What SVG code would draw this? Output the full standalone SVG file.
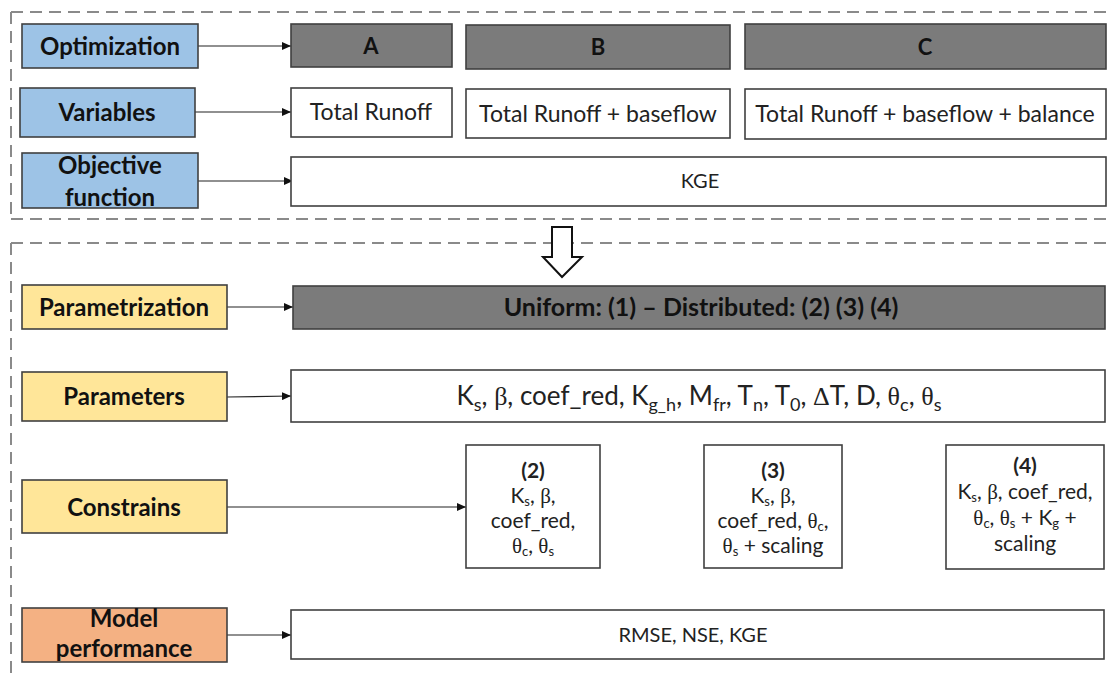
<svg xmlns="http://www.w3.org/2000/svg" width="1112" height="680" viewBox="0 0 1112 680">
<defs>
<marker id="ah" markerUnits="userSpaceOnUse" markerWidth="9" markerHeight="8" refX="9" refY="4" orient="auto">
<path d="M0,0 L9,4 L0,8 Z" fill="#111"/>
</marker>
<style>
.dash{stroke:#8a8a8a;stroke-width:2;stroke-dasharray:12 7;fill:none}
.box{stroke:#404040;stroke-width:1.6}
.blue{fill:#9dc3e6}
.yel{fill:#ffe699}
.org{fill:#f4b183}
.gray{fill:#7b7b7b}
.wht{fill:#ffffff}
.lbl{font-family:Lato,"Open Sans",sans-serif;font-weight:bold;font-size:24px;fill:#111;text-anchor:middle}
.hd{font-family:Lato,"Open Sans",sans-serif;font-weight:bold;font-size:22px;fill:#111;text-anchor:middle}
.uni{font-family:Lato,"Open Sans",sans-serif;font-weight:bold;font-size:25px;fill:#111;text-anchor:middle}
.txt{font-family:Lato,"Open Sans",sans-serif;font-size:23px;fill:#222;text-anchor:middle}
.par{font-family:Lato,"Open Sans",sans-serif;font-size:26px;fill:#222;text-anchor:middle}
.sm{font-family:Lato,"Open Sans",sans-serif;font-size:20px;fill:#222;text-anchor:middle}
.cs{font-family:Lato,"Open Sans",sans-serif;font-size:21px;fill:#222;text-anchor:middle}
.gk{font-family:"Liberation Serif",serif}
.conn{stroke:#222;stroke-width:1.2;fill:none;marker-end:url(#ah)}
</style>
</defs>
<rect width="1112" height="680" fill="#ffffff"/>
<g id="frames">
<path class="dash" d="M11,12 H1112 M11,219 H1112 M11,12 V219"/>
<path class="dash" d="M11,243 H1112 M11,243 V680"/>
</g>
<g id="transition-arrow">
<path d="M552,227 L572,227 L572,257 L582,257 L562,277 L543,257 L552,257 Z" fill="#ffffff" stroke="#111" stroke-width="2" stroke-linejoin="miter"/>
</g>
<g id="connectors">
<line class="conn" x1="198" y1="46" x2="291" y2="46"/>
<line class="conn" x1="195" y1="112" x2="291" y2="112"/>
<line class="conn" x1="198" y1="181" x2="293" y2="181"/>
<line class="conn" x1="227" y1="307" x2="293" y2="307"/>
<line class="conn" x1="227" y1="397" x2="291" y2="396"/>
<line class="conn" x1="227" y1="507" x2="466" y2="507"/>
<line class="conn" x1="227" y1="635" x2="291" y2="635"/>
</g>
<g id="optimization">
<rect class="box blue" x="22" y="24" width="176" height="44"/>
<text class="lbl" x="110" y="55">Optimization</text>
</g>
<g id="variables">
<rect class="box blue" x="20" y="88" width="175" height="49"/>
<text class="lbl" x="107" y="121">Variables</text>
</g>
<g id="objective">
<rect class="box blue" x="22" y="153" width="176" height="55"/>
<text class="lbl" x="110" y="174">Objective</text>
<text class="lbl" x="110" y="206">function</text>
</g>
<g id="opt-a">
<rect class="box gray" x="291" y="24" width="161" height="43"/>
<text class="hd" x="371" y="54">A</text>
</g>
<g id="opt-b">
<rect class="box gray" x="466" y="25" width="264" height="44"/>
<text class="hd" x="598" y="55">B</text>
</g>
<g id="opt-c">
<rect class="box gray" x="745" y="24" width="361" height="45"/>
<text class="hd" x="925" y="55">C</text>
</g>
<g id="var-a">
<rect class="box wht" x="291" y="88" width="161" height="49"/>
<text class="txt" x="371" y="120">Total Runoff</text>
</g>
<g id="var-b">
<rect class="box wht" x="466" y="89" width="264" height="49"/>
<text class="txt" x="598" y="122">Total Runoff + baseflow</text>
</g>
<g id="var-c">
<rect class="box wht" x="745" y="89" width="361" height="50"/>
<text class="txt" x="925" y="122">Total Runoff + baseflow + balance</text>
</g>
<g id="kge">
<rect class="box wht" x="291" y="157" width="815" height="49"/>
<text class="sm" x="700" y="188">KGE</text>
</g>
<g id="parametrization">
<rect class="box yel" x="22" y="285" width="205" height="44"/>
<text class="lbl" x="124" y="316">Parametrization</text>
</g>
<g id="uniform">
<rect class="box gray" x="293" y="286" width="812" height="43"/>
<text class="uni" x="701" y="316">Uniform: (1) – Distributed: (2) (3) (4)</text>
</g>
<g id="parameters">
<rect class="box yel" x="22" y="372" width="205" height="49"/>
<text class="lbl" x="124" y="405">Parameters</text>
</g>
<g id="param-list">
<rect class="box wht" x="291" y="370" width="814" height="52"/>
<text class="par" x="699" y="405">K<tspan font-size="18" dy="6">s</tspan><tspan dy="-6">, </tspan><tspan class="gk">β</tspan>, coef_red, K<tspan font-size="18" dy="6">g_h</tspan><tspan dy="-6">, M</tspan><tspan font-size="18" dy="6">fr</tspan><tspan dy="-6">, T</tspan><tspan font-size="18" dy="6">n</tspan><tspan dy="-6">, T</tspan><tspan font-size="18" dy="6">0</tspan><tspan dy="-6">, </tspan><tspan class="gk">Δ</tspan>T, D, <tspan class="gk">θ</tspan><tspan font-size="18" dy="6">c</tspan><tspan dy="-6">, </tspan><tspan class="gk">θ</tspan><tspan font-size="18" dy="6">s</tspan></text>
</g>
<g id="constrains">
<rect class="box yel" x="22" y="480" width="205" height="53"/>
<text class="lbl" x="124" y="516">Constrains</text>
</g>
<g id="c2">
<rect class="box wht" x="466" y="445" width="134" height="123"/>
<text class="cs" x="533" y="478" font-weight="bold">(2)</text>
<text class="cs" x="533" y="503">K<tspan font-size="13" dy="3">s</tspan><tspan dy="-3">, </tspan><tspan class="gk">β</tspan>,</text>
<text class="cs" x="533" y="528">coef_red,</text>
<text class="cs" x="533" y="553"><tspan class="gk">θ</tspan><tspan font-size="13" dy="3">c</tspan><tspan dy="-3">, </tspan><tspan class="gk">θ</tspan><tspan font-size="13" dy="3">s</tspan></text>
</g>
<g id="c3">
<rect class="box wht" x="704" y="445" width="138" height="123"/>
<text class="cs" x="773" y="478" font-weight="bold">(3)</text>
<text class="cs" x="773" y="503">K<tspan font-size="13" dy="3">s</tspan><tspan dy="-3">, </tspan><tspan class="gk">β</tspan>,</text>
<text class="cs" x="773" y="528">coef_red, <tspan class="gk">θ</tspan><tspan font-size="13" dy="3">c</tspan><tspan dy="-3">,</tspan></text>
<text class="cs" x="773" y="553"><tspan class="gk">θ</tspan><tspan font-size="13" dy="3">s</tspan><tspan dy="-3"> + scaling</tspan></text>
</g>
<g id="c4">
<rect class="box wht" x="946" y="445" width="158" height="124"/>
<text class="cs" x="1025" y="473" font-weight="bold">(4)</text>
<text class="cs" x="1025" y="499">K<tspan font-size="13" dy="3">s</tspan><tspan dy="-3">, </tspan><tspan class="gk">β</tspan>, coef_red,</text>
<text class="cs" x="1025" y="525"><tspan class="gk">θ</tspan><tspan font-size="13" dy="3">c</tspan><tspan dy="-3">, </tspan><tspan class="gk">θ</tspan><tspan font-size="13" dy="3">s</tspan><tspan dy="-3"> + K</tspan><tspan font-size="13" dy="3">g</tspan><tspan dy="-3"> +</tspan></text>
<text class="cs" x="1025" y="551">scaling</text>
</g>
<g id="model-performance">
<rect class="box org" x="22" y="608" width="205" height="54"/>
<text class="lbl" x="124" y="627">Model</text>
<text class="lbl" x="124" y="657">performance</text>
</g>
<g id="metrics">
<rect class="box wht" x="291" y="610" width="813" height="49"/>
<text class="sm" x="693" y="642">RMSE, NSE, KGE</text>
</g>
</svg>
